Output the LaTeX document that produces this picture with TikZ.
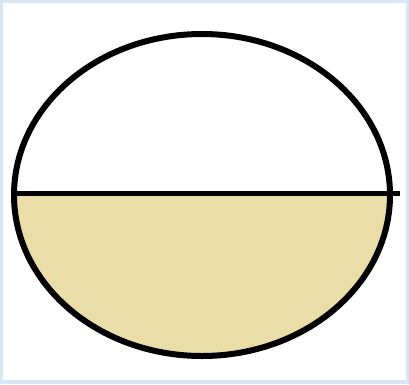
\documentclass[tikz,border=0pt]{standalone}
\usepackage{tikz}
\usetikzlibrary{calc}
\definecolor{slideblue}{HTML}{D8E7F6}
\definecolor{sandfill}{HTML}{EADDA8}

\begin{document}
\begin{tikzpicture}[x=1pt,y=-1pt]
    % Slide background and frame
    \fill[slideblue] (0,0) rectangle (409,384);
    \fill[white] (3,3) rectangle (406,380);
    \useasboundingbox (0,0) rectangle (409,384);

    % Lower half filled
    \begin{scope}
        \clip (202,195) ellipse (188 and 161);
        \fill[sandfill] (10,193) rectangle (400,360);
    \end{scope}

    % Outline
    \draw[line width=6pt] (202,195) ellipse (188 and 161);

    % Dividing line
    \coordinate (l) at (12,193);
    \coordinate (r) at (400,193);
    \draw[line width=5pt] (l) -- (r);
\end{tikzpicture}
\end{document}
